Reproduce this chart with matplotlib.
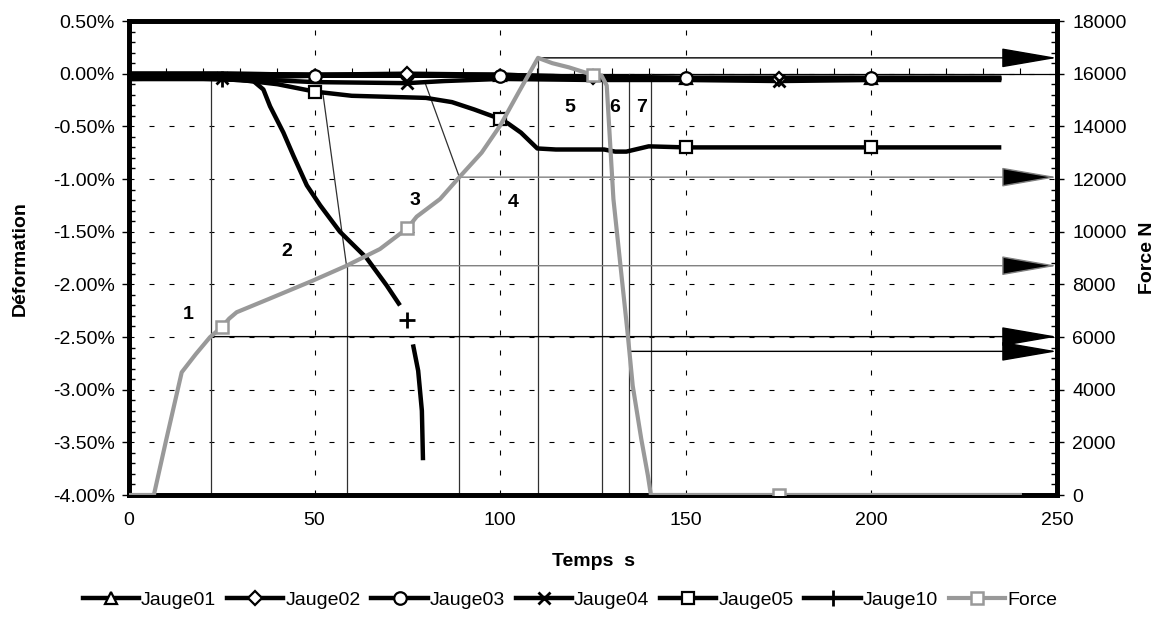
import numpy as np
import matplotlib
matplotlib.use('Agg')
import matplotlib.pyplot as plt
from matplotlib.ticker import MultipleLocator, FuncFormatter
from matplotlib.lines import Line2D

plt.rcParams['font.family'] = ['Liberation Sans', 'DejaVu Sans']

nan = np.nan

# ---------------- data ----------------
t_j01 = [0, 25, 50, 75, 100, 110, 125, 150, 200, 235]
v_j01 = [0.0, 0.0, -0.01, -0.01, -0.01, -0.02, -0.03, -0.04, -0.04, -0.04]
mk_j01 = [50, 100, 150, 200]

t_j02 = [0, 25, 50, 75, 100, 110, 125, 150, 175, 200, 235]
v_j02 = [0.0, 0.0, -0.01, 0.0, -0.01, -0.02, -0.03, -0.05, -0.05, -0.05, -0.05]
mk_j02 = [75, 125, 175]

t_j03 = [0, 25, 50, 75, 100, 110, 125, 150, 200, 235]
v_j03 = [-0.04, -0.04, -0.02, -0.02, -0.02, -0.03, -0.03, -0.04, -0.04, -0.04]
mk_j03 = [50, 100, 150, 200]

t_j04 = [0, 25, 50, 75, 85, 100, 125, 150, 175, 200, 235]
v_j04 = [-0.05, -0.04, -0.08, -0.09, -0.07, -0.05, -0.06, -0.06, -0.07, -0.06, -0.06]
mk_j04 = [25, 75, 175]

t_j05 = [0, 20, 30, 40, 50, 60, 70, 80, 87, 93, 100, 102, 105.6, 110, 115, 128,
         131, 134, 140, 150, 200, 235]
v_j05 = [-0.05, -0.05, -0.06, -0.10, -0.17, -0.21, -0.22, -0.23, -0.27, -0.34,
         -0.43, -0.47, -0.56, -0.71, -0.72, -0.72, -0.74, -0.74, -0.69, -0.70,
         -0.70, -0.70]
mk_j05 = [50, 100, 150, 200]

t_j10 = [0, 25, 29, 33.5, 36.2, 38, 41.6, 44.3, 47.9, 51.5, 56.8, 64, 69.4, 73,
         74, 75, 76, 76.5, 77.9, 78.9, 79.2]
v_j10 = [-0.05, -0.05, -0.06, -0.07, -0.15, -0.31, -0.56, -0.78, -1.06, -1.25,
         -1.50, -1.75, -2.01, -2.20, nan, -2.34, nan, -2.57, -2.82, -3.20, -3.67]
mk_j10 = [25, 75]

t_force = [0, 6.7, 10, 14.2, 18, 21.8, 25, 27, 29, 37.6, 49.5, 58.5, 67.6, 75,
           77.5, 83.8, 89, 95, 100, 105, 110.2, 114, 118.5, 125, 127.3, 128.7,
           130.5, 132.4, 134.3, 135.7, 138, 139.8, 140.6, 175, 240]
v_force = [0, 0, 2080, 4660, 5350, 5990, 6380, 6700, 6940, 7440, 8140, 8700,
           9340, 10130, 10570, 11240, 12070, 13000, 14030, 15300, 16600, 16400,
           16240, 15950, 15930, 15550, 11240, 8710, 6180, 4150, 2130, 730, 0, 0, 0]
mk_force = [25, 75, 125, 175]

series_names = ['Jauge01', 'Jauge02', 'Jauge03', 'Jauge04', 'Jauge05', 'Jauge10']

# annotation construction (times, s)
vline_to_zero = [22.0, 127.3, 134.8, 140.5]
vline_to_force = [58.6, 89.0, 110.2]
arrow_from = [22.0, 58.6, 89.0, 110.2, 134.8]
arrow_colors = ['black', '#808080', '#808080', 'black', 'black']
pointer_from = [58.6, 89.0]
pointer_to = [52.2, 79.7]

phase_labels = ['1', '2', '3', '4', '5', '6', '7']
label_t = [16.0, 42.5, 77.0, 103.5, 118.8, 130.9, 138.1]
label_pct = [-2.29, -1.69, -1.20, -1.22, -0.32, -0.32, -0.32]

# ---------------- figure ----------------
fig = plt.figure(figsize=(11.63, 6.22), dpi=100)
ax = fig.add_axes([129 / 1163, 1 - 495 / 622, 928 / 1163, 474 / 622])
ax2 = ax.twinx()

ax.set_xlim(0, 250)
ax.set_ylim(-4.0, 0.5)
ax2.set_ylim(0, 18000)


def pct_to_force(p):
    lo, hi = ax.get_ylim()
    flo, fhi = ax2.get_ylim()
    return flo + (np.asarray(p) - lo) / (hi - lo) * (fhi - flo)


# grid
dash = (0, (4.5, 13.5))
ax.grid(True, which='major', axis='both', color='black', lw=0.8, ls=dash, zorder=0)
ax.set_axisbelow(True)

# x axis line at 0 % with small ticks
ax.axhline(0, color='black', lw=0.9, zorder=1)
ax.plot(np.arange(0, 251, 10), np.zeros(26), ls='none', marker=2, ms=4,
        mew=0.8, color='black', zorder=1, clip_on=False)

ann_kw = dict(color='#303030', lw=0.9, zorder=1.5, transform=ax2.transData)
force_t = np.array(t_force)
force_v = np.array(v_force)
for tv in vline_to_zero:
    ax.plot([tv, tv], [0, pct_to_force(0)], **ann_kw)
for tv in vline_to_force:
    ax.plot([tv, tv], [0, np.interp(tv, force_t, force_v)], **ann_kw)
gauge_interp = {58.6: (t_j05, v_j05), 89.0: (t_j04, v_j04)}
for tf, tt in zip(pointer_from, pointer_to):
    tg, vg = gauge_interp[tf]
    ax.plot([tf, tt], [np.interp(tf, force_t, force_v),
                       pct_to_force(np.interp(tt, tg, vg))], **ann_kw)
for tv, c in zip(arrow_from, arrow_colors):
    fv = np.interp(tv, force_t, force_v)
    ax.annotate('', xy=(250, fv), xytext=(tv, fv),
                xycoords=ax2.transData, textcoords=ax2.transData,
                arrowprops=dict(arrowstyle='-|>,head_length=3.6,head_width=0.62',
                                mutation_scale=10, ec=c, fc='black', lw=1.0,
                                shrinkA=0, shrinkB=0),
                annotation_clip=False, zorder=1.5)

# gauge series
gauges = [
    (t_j01, v_j01, mk_j01, '^', 9),
    (t_j02, v_j02, mk_j02, 'D', 7.5),
    (t_j03, v_j03, mk_j03, 'o', 9),
    (t_j04, v_j04, mk_j04, 'x', 9),
    (t_j05, v_j05, mk_j05, 's', 8.5),
    (t_j10, v_j10, mk_j10, '+', 11),
]
handles = []
for name, (tt, vv, mk, m, ms) in zip(series_names, gauges):
    tt = np.array(tt, float)
    vv = np.array(vv, float)
    ax.plot(tt, vv, color='black', lw=3.2, solid_capstyle='butt', zorder=2)
    sel = np.isin(tt, mk)
    mew = 2.0 if m in ('x', '+') else 1.6
    ax.plot(tt[sel], vv[sel], ls='none', marker=m, ms=ms, mfc='white',
            mec='black', mew=mew, zorder=3)
    handles.append(Line2D([], [], color='black', lw=3.2, marker=m, ms=ms,
                          mfc='white', mec='black', mew=mew, label=name))

# force series
ax2.plot(force_t, force_v, color='#999999', lw=3.0, zorder=3)
selF = np.isin(force_t, mk_force)
ax2.plot(force_t[selF], force_v[selF], ls='none', marker='s', ms=8.5,
         mfc='white', mec='#999999', mew=1.8, zorder=4)
handles.append(Line2D([], [], color='#999999', lw=3.0, marker='s', ms=8.5,
                      mfc='white', mec='#999999', mew=1.8, label='Force'))

# phase labels
for lab, tx, py in zip(phase_labels, label_t, label_pct):
    ax.text(tx, py, lab, ha='center', va='center', fontsize=14,
            fontweight='bold', zorder=5)

# ticks & spines
ax.set_xticks(np.arange(0, 251, 50))
ax.set_yticks(np.arange(-4.0, 0.51, 0.5))
ax.yaxis.set_minor_locator(MultipleLocator(0.1))
ax.yaxis.set_major_formatter(FuncFormatter(lambda v, p: f"{v:.2f}%"))
ax2.set_yticks(np.arange(0, 18001, 2000))
ax2.yaxis.set_minor_locator(MultipleLocator(400))

ax.tick_params(axis='x', which='major', length=0, pad=12, labelsize=14)
ax.tick_params(axis='y', which='major', direction='out', length=5, width=1,
               pad=5, labelsize=14)
ax.tick_params(axis='y', which='minor', direction='in', length=4, width=1)
ax2.tick_params(axis='y', which='major', direction='out', length=5, width=1,
                pad=6, labelsize=14)
ax2.tick_params(axis='y', which='minor', direction='in', length=4, width=1)

for a in (ax, ax2):
    for s in a.spines.values():
        s.set_linewidth(3.4)
        s.set_color('black')

fig.text(0.017, 0.585, 'Déformation', rotation=90, ha='center', va='center',
         fontsize=14, fontweight='bold')
fig.text(0.987, 0.585, 'Force N', rotation=90, ha='center', va='center',
         fontsize=14, fontweight='bold')
fig.text(0.5107, 1 - 562 / 622, 'Temps  s', ha='center', va='center',
         fontsize=14, fontweight='bold')

fig.legend(handles=handles, loc='center', bbox_to_anchor=(0.49, 1 - 600 / 622),
           ncol=7, frameon=False, fontsize=14, handlelength=2.9,
           handletextpad=0.1, columnspacing=0.55)

fig.savefig('out.png', dpi=100)
